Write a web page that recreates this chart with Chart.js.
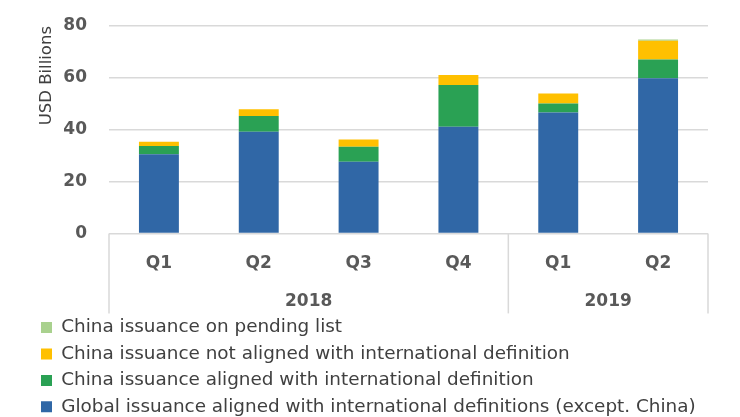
<!DOCTYPE html>
<html>
<head>
<meta charset="utf-8">
<script src="https://cdn.jsdelivr.net/npm/chart.js@4.4.1/dist/chart.umd.min.js"></script>
<style>
  html, body { margin: 0; padding: 0; background: #fff; }
  #wrap { width: 740px; height: 417px; }
</style>
</head>
<body>
<div id="wrap"><canvas id="myChart"></canvas></div>
<script>
// données (milliards USD)
const quarters = ['Q1', 'Q2', 'Q3', 'Q4', 'Q1', 'Q2'];
const years = ['2018', '2019'];
const yearSpans = [4, 2]; // nombre de trimestres par année
const globalAligned = [30.5, 39.2, 27.6, 41.1, 46.6, 59.8];
const chinaAligned = [3.2, 6.1, 5.8, 16.1, 3.5, 7.3];
const chinaNotAligned = [1.7, 2.6, 2.8, 3.9, 3.9, 7.2];
const chinaPending = [0, 0, 0, 0, 0, 0.5];
const yTicks = [0, 20, 40, 60, 80];

const FONT = 'DejaVu Sans';
const GRID = '#d9d9d9';

// lignes verticales + libellés des années sous l'axe x
const yearAxisPlugin = {
    id: 'yearAxis',
    afterDraw(chart) {
        const ctx = chart.ctx;
        const x = chart.scales.x;
        const area = chart.chartArea;
        const bottom = area.bottom + 80;
        const edges = [area.left];
        let idx = 0;
        yearSpans.forEach((n, i) => {
            const last = idx + n - 1;
            if (i < yearSpans.length - 1) {
                edges.push((x.getPixelForValue(last) + x.getPixelForValue(last + 1)) / 2);
            }
            idx += n;
        });
        edges.push(area.right);

        ctx.save();
        ctx.strokeStyle = GRID;
        ctx.lineWidth = 1.5;
        edges.forEach((ex) => {
            ctx.beginPath();
            ctx.moveTo(ex, area.bottom);
            ctx.lineTo(ex, bottom);
            ctx.stroke();
        });

        ctx.fillStyle = '#595959';
        ctx.font = 'bold 17px "' + FONT + '"';
        ctx.textAlign = 'center';
        ctx.textBaseline = 'middle';
        idx = 0;
        yearSpans.forEach((n, i) => {
            const cx = (x.getPixelForValue(idx) + x.getPixelForValue(idx + n - 1)) / 2;
            ctx.fillText(years[i], cx, area.bottom + 68);
            idx += n;
        });
        ctx.restore();
    }
};

const ctx = document.getElementById('myChart').getContext('2d');

window.myChart = new Chart(ctx, {
    type: 'bar',
    data: {
        labels: quarters,
        datasets: [
            { label: 'Global issuance aligned with international definitions (except. China)', data: globalAligned, backgroundColor: '#3067a6' },
            { label: 'China issuance aligned with international definition', data: chinaAligned, backgroundColor: '#2aa154' },
            { label: 'China issuance not aligned with international definition', data: chinaNotAligned, backgroundColor: '#ffc000' },
            { label: 'China issuance on pending list', data: chinaPending, backgroundColor: '#a9d18e' },
        ],
    },
    options: {
        responsive: true,
        maintainAspectRatio: false,
        animation: false,
        layout: { padding: { left: 33, right: 32, top: 26, bottom: -9 } },
        datasets: { bar: { categoryPercentage: 1, barPercentage: 0.4, borderWidth: 0 } },
        plugins: {
            tooltip: { enabled: false },
            legend: {
                position: 'bottom',
                align: 'start',
                reverse: true,
                labels: {
                    boxWidth: 11,
                    boxHeight: 11,
                    padding: 8,
                    color: '#404040',
                    font: { family: FONT, size: 18.4 },
                },
            },
        },
        scales: {
            x: {
                stacked: true,
                grid: { display: false },
                border: { display: false },
                ticks: { color: '#595959', padding: 12, font: { family: FONT, size: 17, weight: 'bold' } },
                afterFit(scale) { scale.height = 77; },
            },
            y: {
                stacked: true,
                min: 0,
                max: 80,
                afterBuildTicks(scale) { scale.ticks = yTicks.map((v) => ({ value: v })); },
                grid: { color: GRID, lineWidth: 1.5, drawTicks: false },
                border: { display: false },
                ticks: { color: '#595959', padding: 22, font: { family: FONT, size: 17, weight: 'bold' } },
                title: {
                    display: true,
                    text: 'USD Billions',
                    align: 'end',
                    color: '#404040',
                    font: { family: FONT, size: 16.5 },
                },
                afterFit(scale) {
                    scale.width = 76;
                    scale.paddingTop = 0;
                    scale.paddingBottom = 0;
                },
            },
        },
    },
    plugins: [yearAxisPlugin],
});
</script>
</body>
</html>
